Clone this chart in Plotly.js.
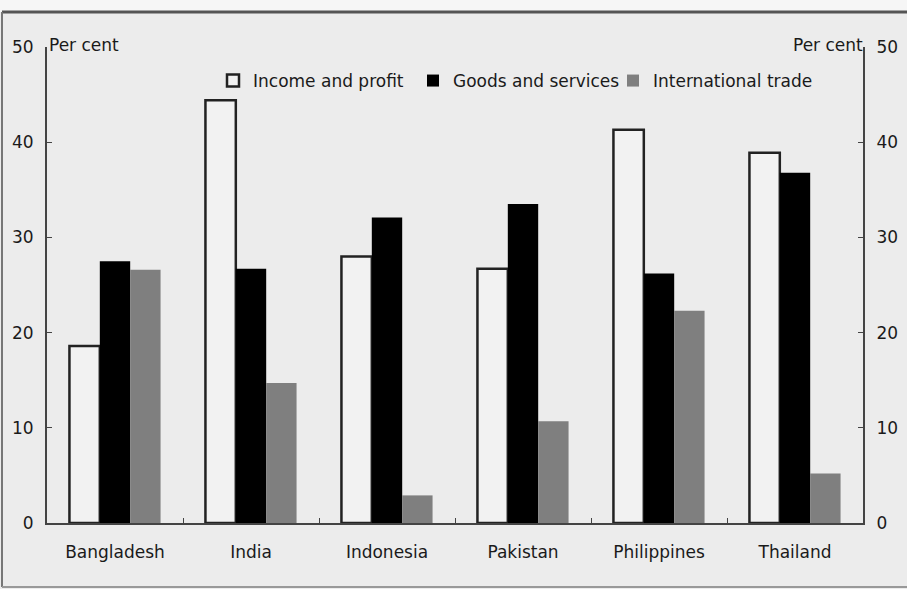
<!DOCTYPE html>
<html><head><meta charset="utf-8">
<script src="https://cdn.plot.ly/plotly-3.0.1.min.js"></script>
<style>html,body{margin:0;padding:0;background:#ececec}</style>
</head><body>
<div id="chart" style="width:907px;height:589px"></div>
<script>
const countries = ["Bangladesh", "India", "Indonesia", "Pakistan", "Philippines", "Thailand"];
const incomeProfit = [18.6, 44.4, 28.0, 26.7, 41.3, 38.9];
const goodsServices = [27.5, 26.7, 32.1, 33.5, 26.2, 36.8];
const internationalTrade = [26.6, 14.7, 2.9, 10.7, 22.3, 5.2];
const seriesNames = ["Income and profit", "Goods and services", "International trade"];

const W = 907, H = 589, L = 47, R = 44, T = 47, B = 66;
const pw = W - L - R, ph = H - T - B;
const px = v => (v - L) / pw;
const py = v => (H - B - v) / ph;
const font = {family: "DejaVu Sans, Verdana, sans-serif", size: 17, color: "#1a1a1a"};

const traces = [
  {type: "bar", name: seriesNames[0], x: countries, y: incomeProfit,
   marker: {color: "#f2f2f2", line: {color: "#222", width: 2.5}}},
  {type: "bar", name: seriesNames[1], x: countries, y: goodsServices,
   marker: {color: "#000000", line: {color: "#000", width: 0}}},
  {type: "bar", name: seriesNames[2], x: countries, y: internationalTrade,
   marker: {color: "#7f7f7f", line: {color: "#7f7f7f", width: 0}}},
  {type: "scatter", x: countries, y: internationalTrade, yaxis: "y2",
   mode: "markers", marker: {opacity: 0}, showlegend: false, hoverinfo: "skip"}
];

const layout = {
  width: W, height: H,
  margin: {l: L, r: R, t: T, b: B, pad: 0},
  paper_bgcolor: "#ececec", plot_bgcolor: "#ececec",
  font: font,
  barmode: "group", bargap: 0.33, bargroupgap: 0,
  showlegend: true,
  legend: {orientation: "h", x: px(213), xanchor: "left", y: py(81), yanchor: "middle",
           bgcolor: "rgba(0,0,0,0)", font: font, itemwidth: 30, tracegroupgap: 0,
           entrywidth: 155, entrywidthmode: "pixels"},
  xaxis: {type: "category", showline: true, linecolor: "#444", linewidth: 2,
          ticks: "inside", tickson: "boundaries", ticklen: 5, tickcolor: "#444",
          showgrid: false, zeroline: false, tickfont: font, fixedrange: true,
          ticklabelstandoff: 13},
  yaxis: {range: [0, 50], dtick: 10, showline: true, linecolor: "#444", linewidth: 2,
          ticks: "inside", ticklen: 5, tickcolor: "#444", showgrid: false, zeroline: false,
          tickfont: font, ticklabelstandoff: 8},
  yaxis2: {range: [0, 50], dtick: 10, overlaying: "y", side: "right", showline: true,
           linecolor: "#444", linewidth: 2, ticks: "inside", ticklen: 5, tickcolor: "#444",
           showgrid: false, zeroline: false, tickfont: font, ticklabelstandoff: 8},
  annotations: [
    {text: "Per cent", xref: "paper", yref: "paper", x: px(47), y: py(45),
     xanchor: "left", yanchor: "middle", showarrow: false, font: font},
    {text: "Per cent", xref: "paper", yref: "paper", x: px(865), y: py(45),
     xanchor: "right", yanchor: "middle", showarrow: false, font: font}
  ],
  shapes: [
    {type: "rect", xref: "paper", yref: "paper", x0: px(-5), x1: px(912), y0: py(12), y1: py(-5),
     fillcolor: "#f6f6f6", line: {width: 0}, layer: "below"},
    {type: "line", xref: "paper", yref: "paper", x0: px(2), x1: px(907), y0: py(12), y1: py(12),
     line: {color: "#555", width: 3}},
    {type: "line", xref: "paper", yref: "paper", x0: px(2), x1: px(2), y0: py(12), y1: py(587),
     line: {color: "#777", width: 2}},
    {type: "line", xref: "paper", yref: "paper", x0: px(2), x1: px(907), y0: py(587), y1: py(587),
     line: {color: "#999", width: 2}}
  ]
};

Plotly.newPlot("chart", traces, layout, {displayModeBar: false, staticPlot: true});
</script>
</body></html>
